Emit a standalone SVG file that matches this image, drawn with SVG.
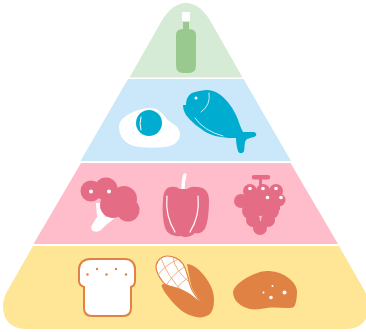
<svg xmlns="http://www.w3.org/2000/svg" width="366" height="332" viewBox="0 0 366 332">
<style>
.g{fill:#d6ebd5}.gd{fill:#9ac98f}.b{fill:#cbe8fb}.bd{fill:#00acd0}.p{fill:#ffbccb}.pd{fill:#e46c85}.y{fill:#ffe596}.o{fill:#e18245}.w{fill:#fff}
.wl{fill:none;stroke:#fff;stroke-linecap:round}
.ol{fill:none;stroke:#efb27f;stroke-width:1}
</style>
<rect width="366" height="332" fill="#fff"/>
<g id="tier-oil">
<path class="g" d="M129.500 77.500L161 22Q172 3 186 3Q200 3 211 22L242.500 77.500Z"/>
<path class="w" d="M182 12h8v9h-8z"/>
<path class="gd" d="M183 22h6v7q7 0 7 6v30q0 8-7 8h-6q-7 0-7-8V35q0-6 7-6z"/>
</g>
<g id="tier-protein">
<path class="b" d="M128 79H243.500L291 161H80.500Z"/>
<path class="w" d="M119 127c0-7 6-11 12-14 6-3 13-5 19-5 8 0 12 5 16 10 3 5 14 7 14 16 0 8-7 12-15 13-9 1-23 1-31-1-8-2-15-9-15-19z"/>
<circle class="bd" cx="149" cy="123" r="13"/>
<path class="wl" stroke-width="1" d="M141 117q-2 7 0 13"/>
<path class="bd" d="M186 105c0-8 4-12 9-13 4-1 8-2 12-2 7 0 13 4 17 8 6 6 9 11 12 17 3 6 4 12 7 17 3 0 8 0 11 0 3 1 3 4 0 5-3 1-6 1-8 3-2 3-1 7-2 11-1 3-5 3-6 0-1-3-2-8-2-13-5 0-10 0-15-1-8-1-15-4-21-9-5-3-10-8-14-13-2-3-3-7-3-10z"/>
<circle class="w" cx="196" cy="98" r="1.500"/>
<path class="wl" stroke-width="0.800" d="M209 93q2 12-8 19M195 118q9 13 28 18"/>
</g>
<g id="tier-vegetables">
<path class="p" d="M81 163H290.500L338 244H33.500Z"/>
<path class="w" d="M96 203l7 0 2 14 8-3 3 3-10 8-5 5q-4 3-8 1-3-2-1-6l5-8z"/>
<g class="pd">
<circle cx="91" cy="191" r="10.500"/>
<circle cx="106" cy="189" r="11.500"/>
<circle cx="124" cy="199" r="13"/>
<circle cx="128" cy="210" r="11.500"/>
<circle cx="113" cy="205" r="13"/>
</g>
<circle class="w" cx="91" cy="191.500" r="2"/><circle class="w" cx="109" cy="191.500" r="2"/>
<path class="wl" stroke-width="3.500" d="M185 175q-2 5-2 16"/>
<path class="pd" d="M170 187q6-1 10 2h7q4-3 10-2c8 0 12 5 12 14 0 8-1 20-3 25-2 6-6 8-11 7-4 4-10 5-14 3-5 1-12-1-15-6-3-6-4-20-3-29 0-9 3-13 7-14z"/>
<path class="wl" stroke-width="1.200" d="M167 196q-2 20 8 36M198 196q2 20-8 36"/>
<g class="pd">
<path d="M254 175h14a2 2 0 0 1 0 4.500h-6v8h-3v-8h-5a2 2 0 0 1 0-4.500z"/>
<path d="M246 190h34v20h-34z"/>
<circle cx="250" cy="191" r="7"/><circle cx="263" cy="191" r="7"/><circle cx="276" cy="191" r="7"/>
<circle cx="241" cy="201" r="7"/><circle cx="279" cy="200" r="6.500"/><circle cx="260" cy="203" r="13"/>
<circle cx="250" cy="211" r="8"/><circle cx="271" cy="211" r="8"/>
<circle cx="253" cy="220" r="7"/><circle cx="268" cy="220" r="7"/><circle cx="260" cy="228" r="7"/>
</g>
<g class="w"><circle cx="250" cy="188.500" r="1.800"/><circle cx="263" cy="188.500" r="1.800"/><circle cx="276" cy="188.500" r="1.800"/><circle cx="267.500" cy="197.500" r="1.800"/><circle cx="281" cy="197.500" r="1.800"/></g>
</g>
<g id="tier-grains">
<path class="y" d="M33 246H339L363 288Q369 298 369 305Q369 329 345 329H27Q3 329 3 305Q3 298 9 288Z"/>
<path class="w" style="stroke:#e18245;stroke-width:2" d="M90 259H125c6 0 10 4 10 10v12c0 3-1 5-4 6v21c0 5-3 8-8 8H92c-5 0-8-3-8-8V287c-3-1-5-3-5-6V269c0-6 5-10 11-10z"/>
<g class="o"><circle cx="87.500" cy="274.500" r="1.200"/><circle cx="97" cy="269" r="1.200"/><circle cx="106.500" cy="274.500" r="1.200"/><circle cx="116" cy="269" r="1.200"/><circle cx="126" cy="274.500" r="1.200"/></g>
<path class="w" style="stroke:#e18245;stroke-width:1.200" d="M156 266c1-6 6-10 11-10 6 0 13 3 16 8 3 5 4 10 5 13 1 5 2 9 4 13 3 5 6 10 10 14-5-3-11-7-15-10-4-2-9-5-14-7-5-1-8-2-10-5-4-5-7-12-7-16z"/>
<path class="ol" d="M158 275q7-10 19-15M166 286q6-11 18-19M176 289q5-7 12-11M161 258q6 18 23 35M173 258q2 12 16 24"/>
<path class="o" d="M187 264c4 0 9 3 13 7 5 5 11 13 13 21 2 9 1 17-3 22-4 3-9 4-14 3-5-1-10-3-14-6-5-4-9-8-12-12-3-4-6-7-8-12-1-2 0-3 2-3 7 3 15 3 21 7 6 3 12 8 17 13-3-5-7-10-10-16-2-7-3-13-5-24z"/>
<path class="o" d="M233 292c1-6 8-11 15-15 6-3 13-6 19-6 7 0 15 2 20 6 6 4 10 9 10 15 0 6-1 10-2 13-1 3-4 3-8 3-7 0-14-1-20 0-7 1-12 2-17 1-4-1-9-3-13-7-2-2-4-6-4-10z"/>
<g class="w"><circle cx="272.500" cy="286" r="1"/><circle cx="263.500" cy="292.500" r="1"/><circle cx="271" cy="297.500" r="1.800"/><circle cx="284.500" cy="292.500" r="2"/></g>
</g>
</svg>
